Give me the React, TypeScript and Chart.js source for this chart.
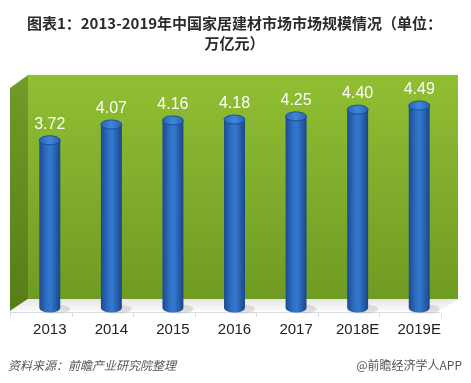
import React, { useEffect, useRef } from "react";
import { Chart, registerables } from "chart.js";

Chart.register(...registerables);

const categories = ["2013", "2014", "2015", "2016", "2017", "2018E", "2019E"];
const values = [3.72, 4.07, 4.16, 4.18, 4.25, 4.4, 4.49];
const titleLines = ["图表1：2013-2019年中国家居建材市场市场规模情况（单位：", "万亿元）"];
const sourceText = "资料来源：前瞻产业研究院整理";
const brandText = "@前瞻经济学人APP";

const sceneBackdrop = {
  id: "sceneBackdrop",
  beforeDatasetsDraw(chart: any) {
    const { ctx, chartArea } = chart;
    const { left, right, top, bottom } = chartArea;
    const depthX = 18;
    const depthY = 12;
    const backL = left + 9;
    const backR = right + 8;
    const backB = bottom - 9;
    const frontL = backL - depthX;
    const frontB = backB + depthY;
    ctx.save();
    const g = ctx.createLinearGradient(0, top, 0, backB);
    g.addColorStop(0, "#90bf33");
    g.addColorStop(0.5, "#80ad2c");
    g.addColorStop(1, "#6f9b22");
    ctx.fillStyle = g;
    ctx.fillRect(backL, top, backR - backL, backB - top);
    const gs = ctx.createLinearGradient(0, top, 0, frontB);
    gs.addColorStop(0, "#709c28");
    gs.addColorStop(1, "#577d17");
    ctx.fillStyle = gs;
    ctx.beginPath();
    ctx.moveTo(frontL, top + depthY + 1);
    ctx.lineTo(backL, top);
    ctx.lineTo(backL, backB);
    ctx.lineTo(frontL, frontB);
    ctx.closePath();
    ctx.fill();
    const gf = ctx.createLinearGradient(0, backB, 0, frontB);
    gf.addColorStop(0, "#e6e6e6");
    gf.addColorStop(1, "#fafafa");
    ctx.fillStyle = gf;
    ctx.beginPath();
    ctx.moveTo(frontL, frontB);
    ctx.lineTo(backL, backB);
    ctx.lineTo(backR, backB);
    ctx.lineTo(backR - depthX, frontB);
    ctx.closePath();
    ctx.fill();
    ctx.strokeStyle = "#d6dbe3";
    ctx.lineWidth = 1;
    ctx.beginPath();
    ctx.moveTo(frontL, frontB + 1.5);
    ctx.lineTo(backR - depthX, frontB + 1.5);
    const xs = chart.scales.x;
    const n = categories.length;
    const step = xs.getPixelForValue(1) - xs.getPixelForValue(0);
    for (let i = 0; i <= n; i++) {
      const xPos = Math.round(xs.getPixelForValue(0) - step / 2 + i * step - 9) + 0.5;
      ctx.moveTo(xPos, frontB + 1.5);
      ctx.lineTo(xPos, frontB + 6);
    }
    ctx.stroke();
    ctx.restore();
  },
};

const cylinders = {
  id: "cylinders",
  afterDatasetsDraw(chart: any) {
    const { ctx } = chart;
    const meta = chart.getDatasetMeta(0);
    ctx.save();
    meta.data.forEach((bar: any, i: number) => {
      const { x, y, base, width } = bar.getProps(["x", "y", "base", "width"], true);
      const rx = width / 2;
      const ry = 4.5;
      ctx.fillStyle = "rgba(160,160,160,0.3)";
      ctx.beginPath();
      ctx.ellipse(x + 6, base + 1, rx + 4, ry, 0, 0, Math.PI * 2);
      ctx.fill();
      const gb = ctx.createLinearGradient(x - rx, 0, x + rx, 0);
      gb.addColorStop(0, "#1c4a8f");
      gb.addColorStop(0.35, "#2f6fc4");
      gb.addColorStop(0.55, "#3379cf");
      gb.addColorStop(1, "#1a4687");
      ctx.fillStyle = gb;
      ctx.beginPath();
      ctx.moveTo(x - rx, y);
      ctx.lineTo(x - rx, base);
      ctx.ellipse(x, base, rx, ry, 0, Math.PI, 0, true);
      ctx.lineTo(x + rx, y);
      ctx.closePath();
      ctx.fill();
      const gt = ctx.createLinearGradient(x - rx, 0, x + rx, 0);
      gt.addColorStop(0, "#2b66b8");
      gt.addColorStop(0.5, "#3f86db");
      gt.addColorStop(1, "#2a62b0");
      ctx.fillStyle = gt;
      ctx.strokeStyle = "#1d4d94";
      ctx.lineWidth = 1;
      ctx.beginPath();
      ctx.ellipse(x, y, rx, ry, 0, 0, Math.PI * 2);
      ctx.fill();
      ctx.stroke();
      ctx.fillStyle = "#ffffff";
      ctx.font = "16px 'Liberation Sans', Arial, sans-serif";
      ctx.textAlign = "center";
      ctx.textBaseline = "middle";
      ctx.fillText(values[i].toFixed(2), x, y - 16);
    });
    ctx.restore();
  },
};

const footer = {
  id: "footer",
  afterDraw(chart: any) {
    const { ctx, width } = chart;
    ctx.save();
    ctx.fillStyle = "#555555";
    ctx.textBaseline = "middle";
    ctx.font = "italic 12px 'Noto Sans CJK SC', sans-serif";
    ctx.textAlign = "left";
    ctx.fillText(sourceText, 8, 365);
    ctx.font = "12px 'Noto Sans CJK SC', sans-serif";
    ctx.textAlign = "right";
    ctx.fillText(brandText, width - 9, 365);
    ctx.restore();
  },
};

export default function App() {
  const ref = useRef<HTMLCanvasElement>(null);
  useEffect(() => {
    if (!ref.current) return;
    const chart = new Chart(ref.current, {
      type: "bar",
      data: {
        labels: categories,
        datasets: [
          {
            data: values,
            backgroundColor: "rgba(0,0,0,0)",
            borderWidth: 0,
            barPercentage: 0.68,
            categoryPercentage: 0.5,
          },
        ],
      },
      options: {
        responsive: false,
        animation: false,
        layout: { padding: { left: 19, right: 21, top: 0, bottom: 31 } },
        plugins: {
          legend: { display: false },
          tooltip: { enabled: false },
          title: {
            display: true,
            text: titleLines,
            color: "#2b2b2b",
            font: { size: 15, weight: "bold", family: "'Noto Sans CJK SC', sans-serif", lineHeight: 1.33 },
            padding: { top: 13, bottom: 22 },
          },
        },
        scales: {
          x: {
            grid: { display: false, drawTicks: false },
            border: { display: false },
            ticks: {
              color: "#222222",
              font: { size: 15, family: "'Liberation Sans', Arial, sans-serif" },
              padding: 13,
              maxRotation: 0,
            },
          },
          y: {
            display: false,
            min: 0,
            max: 5.17,
          },
        },
      },
      plugins: [sceneBackdrop, cylinders, footer],
    });
    return () => chart.destroy();
  }, []);
  return (
    <div style={{ position: "fixed", left: 0, top: 0, width: 471, height: 383, background: "#ffffff" }}>
      <canvas ref={ref} width={471} height={383} style={{ display: "block", width: 471, height: 383 }} />
    </div>
  );
}
